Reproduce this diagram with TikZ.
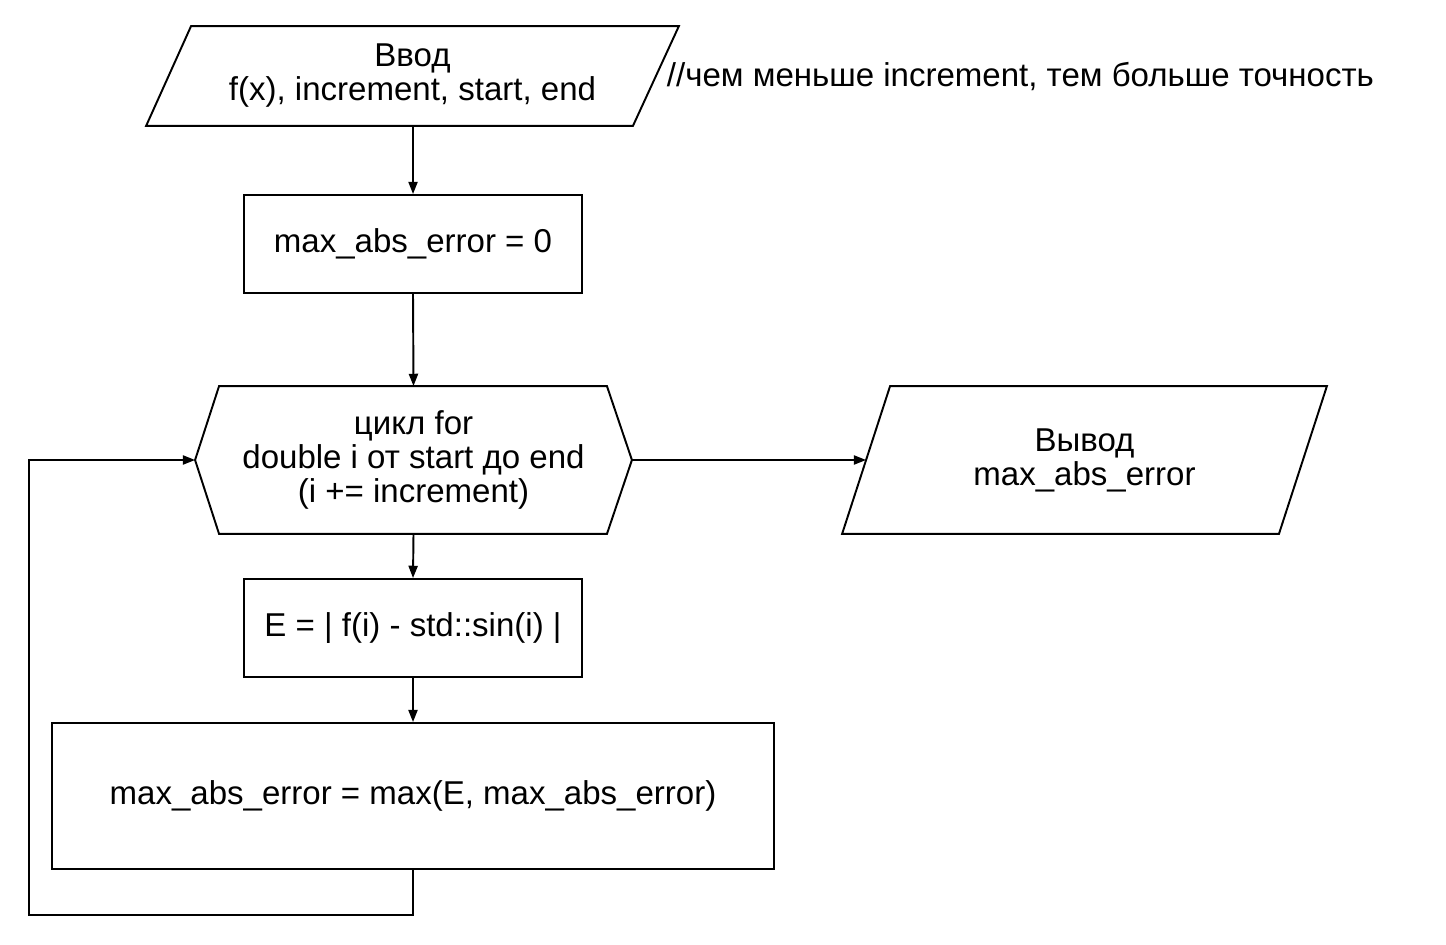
\documentclass[tikz,border=0pt]{standalone}
\usepackage{fontspec}
\setmainfont{Liberation Sans}
\usetikzlibrary{arrows.meta,calc}
\begin{document}
\begin{tikzpicture}[x=0.02cm,y=-0.02cm,
  line width=1.1pt,
  every node/.style={font=\fontsize{18.8}{19.3}\selectfont, align=center},
  procbox/.style={draw, inner sep=0pt, minimum width=6.76cm, minimum height=1.96cm},
  frame/.style={inner sep=0pt},
  flow/.style={-{Triangle[length=7pt,width=5.2pt]}}]
  \useasboundingbox (0,0) rectangle (1446,944);

  % blocks
  \node[frame, minimum width=10.62cm, minimum height=1.96cm] (in) at (412.5,76)
    {Ввод\\f(x), increment, start, end};
  \node[anchor=west, inner sep=0pt] (note) at (666,76)
    {//чем меньше increment, тем больше точность};
  \node[procbox] (init) at (413,244) {max\_abs\_error = 0};
  \node[frame, minimum width=8.7cm, minimum height=2.92cm] (loop) at (413.5,460)
    {цикл for\\double i от start до end\\(i += increment)};
  \node[frame, minimum width=9.66cm, minimum height=2.92cm] (out) at (1084.5,460)
    {Вывод\\max\_abs\_error};
  \node[procbox] (err) at (413,628) {E = | f(i) - std::sin(i) |};
  \node[draw, inner sep=0pt, minimum width=14.44cm, minimum height=2.92cm] (upd) at (413,796)
    {max\_abs\_error = max(E, max\_abs\_error)};

  % outlines of the input/output parallelograms and the loop hexagon
  \draw ($(in.north west)+(45,0)$) -- (in.north east)
        -- ($(in.south east)+(-46,0)$) -- (in.south west) -- cycle;
  \draw ($(out.north west)+(48,0)$) -- (out.north east)
        -- ($(out.south east)+(-48,0)$) -- (out.south west) -- cycle;
  \draw (loop.west) -- ($(loop.north west)+(24,0)$) -- ($(loop.north east)+(-25,0)$)
        -- (loop.east) -- ($(loop.south east)+(-25,0)$) -- ($(loop.south west)+(24,0)$) -- cycle;

  % connectors
  \coordinate (outin) at ($(out.west)+(24,0)$);
  \coordinate (back1) at (413,915);
  \coordinate (back2) at (29,915);
  \coordinate (back3) at (29,460);
  \draw[flow] (in.south -| init.north) -- (init.north);
  \draw[flow] (init.south) -- (loop.north);
  \draw[flow] (loop.south) -- (err.north);
  \draw[flow] (err.south) -- (upd.north);
  \draw[flow] (loop.east) -- (outin);
  \draw[flow] (upd.south) -- (back1) -- (back2) -- (back3) -- (loop.west);
\end{tikzpicture}
\end{document}
